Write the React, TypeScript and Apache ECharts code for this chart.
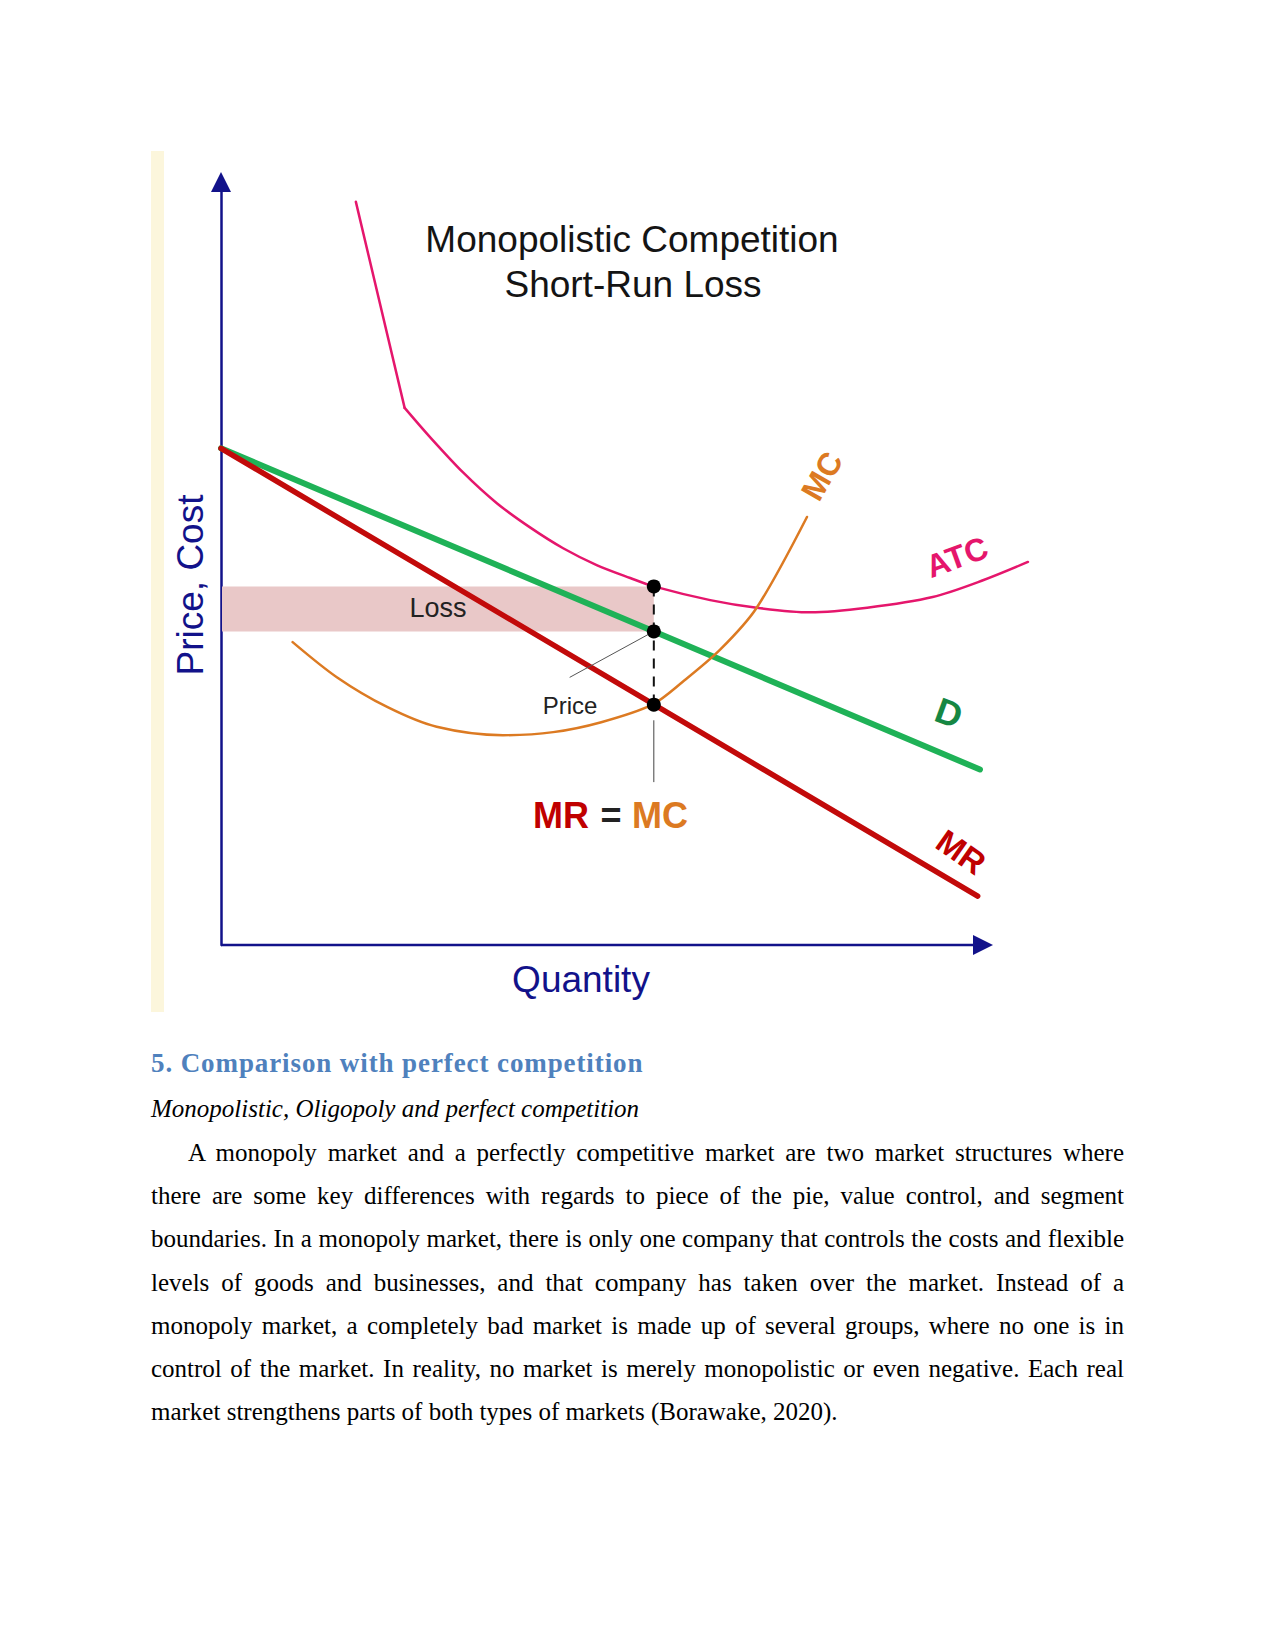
import React, { useEffect, useRef } from "react";
import * as echarts from "echarts";

// ---- axis ranges (arbitrary units) ----
const quantityMax = 110;
const quantityArrowAt = 100;
const priceMax = 100;

// ---- curves (quantity, price/cost) ----
const demandQ = [0, 99.6];
const demandP = [65.1, 23.0];

const mrQ = [0, 99.3];
const mrP = [65.1, 6.4];

const atcUpperQ = [17.7, 24.1];
const atcUpperP = [97.4, 70.4];

const atcQ = [24.1, 27.4, 31.8, 36.2, 40.6, 44.9, 49.3, 53.7, 56.8, 64.2, 70.3, 77.3, 84.8, 93.4, 100.0, 105.9];
const atcP = [70.4, 66.6, 61.9, 57.9, 54.7, 52.0, 49.8, 48.1, 47.0, 45.2, 44.2, 43.6, 44.2, 45.6, 47.8, 50.2];

const mcQ = [9.4, 15.2, 21.8, 28.3, 37.0, 43.6, 49.9, 56.6, 60.6, 65.5, 70.3, 76.9];
const mcP = [39.7, 35.1, 31.2, 28.6, 27.5, 27.9, 29.2, 31.5, 34.5, 38.7, 44.2, 56.1];

// ---- key points at the loss-minimising quantity ----
const qStar = 56.8;
const priceAtQ = 41.1;
const atcAtQ = 47.0;
const mcAtQ = 31.5;
const guideP = [29.4, 21.4];
const pricePointer = [45.8, 35.1];

// ---- texts ----
const titleLines = ["Monopolistic Competition", "Short-Run Loss"];
const yAxisTitle = "Price, Cost";
const xAxisTitle = "Quantity";

const heading = "5. Comparison with perfect competition";
const subheading = "Monopolistic, Oligopoly and perfect competition";
const bodyLines = [
  "A monopoly market and a perfectly competitive market are two market structures where",
  "there are some key differences with regards to piece of the pie, value control, and segment",
  "boundaries. In a monopoly market, there is only one company that controls the costs and flexible",
  "levels of goods and businesses, and that company has taken over the market. Instead of a",
  "monopoly market, a completely bad market is made up of several groups, where no one is in",
  "control of the market. In reality, no market is merely monopolistic or even negative. Each real",
  "market strengthens parts of both types of markets (Borawake, 2020).",
];

const NAVY = "#12128a";
const GREEN = "#1fb257";
const RED = "#c20a0a";
const PINK = "#e5166c";
const ORANGE = "#dc7a22";
const LOSS = "#e9c8c8";
const SANS = '"Liberation Sans", Arial, Helvetica, sans-serif';
const SERIF = '"Liberation Serif", "Times New Roman", Times, serif';

const zip = (a: number[], b: number[]) => a.map((v, i) => [v, b[i]]);

function txt(
  text: string,
  x: number,
  y: number,
  size: number,
  fill: string,
  opts: { bold?: boolean; align?: string; rotation?: number } = {}
) {
  const align = opts.align || "center";
  return {
    type: "text",
    x,
    y,
    rotation: opts.rotation || 0,
    z: 100,
    silent: true,
    style: {
      text,
      fill,
      fontSize: size,
      fontFamily: SANS,
      fontWeight: opts.bold ? "bold" : "normal",
      textAlign: align,
      textVerticalAlign: "middle",
      align,
      verticalAlign: "middle",
    },
  };
}

const deg = (d: number) => (d * Math.PI) / 180;

function Chart() {
  const ref = useRef<HTMLDivElement>(null);
  useEffect(() => {
    if (!ref.current) return;
    const chart = echarts.init(ref.current, undefined, { renderer: "svg" });
    const line = (data: number[][], color: string, width: number, extra: any = {}) => ({
      type: "line",
      data,
      showSymbol: false,
      symbol: "none",
      clip: false,
      silent: true,
      lineStyle: { color, width, cap: "round" },
      ...extra,
    });
    const option: any = {
      animation: false,
      backgroundColor: "transparent",
      grid: { left: 221, top: 182, width: 7.62 * quantityMax, height: 763 },
      xAxis: {
        type: "value",
        min: 0,
        max: quantityMax,
        axisLine: { show: false },
        axisTick: { show: false },
        axisLabel: { show: false },
        splitLine: { show: false },
      },
      yAxis: {
        type: "value",
        min: 0,
        max: priceMax,
        axisLine: {
          show: true,
          onZero: false,
          symbol: ["none", "triangle"],
          symbolSize: [20, 20],
          lineStyle: { color: NAVY, width: 2.5 },
        },
        axisTick: { show: false },
        axisLabel: { show: false },
        splitLine: { show: false },
      },
      series: [
        {
          type: "custom",
          silent: true,
          clip: false,
          data: [[0, atcAtQ, qStar, priceAtQ]],
          renderItem: (_p: any, api: any) => {
            const a = api.coord([api.value(0), api.value(1)]);
            const b = api.coord([api.value(2), api.value(3)]);
            return {
              type: "rect",
              shape: { x: a[0] + 1, y: a[1], width: b[0] - a[0] - 1, height: b[1] - a[1] },
              style: { fill: LOSS },
            };
          },
        },
        // quantity axis line with arrow head
        line(
          [
            [0, 0],
            [quantityArrowAt, 0],
          ],
          NAVY,
          2.5,
          { lineStyle: { color: NAVY, width: 2.5, cap: "butt" } }
        ),
        {
          type: "scatter",
          silent: true,
          clip: false,
          symbol: "triangle",
          symbolRotate: -90,
          symbolSize: 20,
          itemStyle: { color: NAVY, opacity: 1 },
          data: [[quantityArrowAt, 0]],
        },
        line(zip(atcUpperQ, atcUpperP), PINK, 2.5),
        line(zip(atcQ, atcP), PINK, 2.5, { smooth: 0.3 }),
        line(zip(demandQ, demandP), GREEN, 6),
        line(zip(mrQ, mrP), RED, 5.5),
        line(zip(mcQ, mcP), ORANGE, 2.5, { smooth: 0.3 }),
        line(
          [
            [qStar, atcAtQ],
            [qStar, mcAtQ],
          ],
          "#111",
          2,
          { lineStyle: { color: "#111", width: 2, type: [10, 8] } }
        ),
        line(
          [
            [qStar, guideP[0]],
            [qStar, guideP[1]],
          ],
          "#444",
          1
        ),
        line([pricePointer, [qStar, priceAtQ]], "#555", 1),
        {
          type: "scatter",
          silent: true,
          symbolSize: 14,
          itemStyle: { color: "#000", opacity: 1 },
          data: [
            [qStar, atcAtQ],
            [qStar, priceAtQ],
            [qStar, mcAtQ],
          ],
          z: 5,
        },
      ],
      graphic: [
        {
          type: "rect",
          z: -1,
          silent: true,
          shape: { x: 151, y: 151, width: 13, height: 861 },
          style: { fill: "#fcf6dc" },
        },
        txt(titleLines[0], 632, 239, 37, "#141414"),
        txt(titleLines[1], 633, 284, 37, "#141414"),
        txt(yAxisTitle, 190, 585, 37, NAVY, { rotation: Math.PI / 2 }),
        txt(xAxisTitle, 581, 979, 37, NAVY),
        txt("Loss", 438, 608, 27, "#222"),
        txt("Price", 570, 705, 24, "#222"),
        txt("MR", 533, 815, 36, "#c00000", { bold: true, align: "left" }),
        txt("=", 611, 815, 36, "#222", { bold: true }),
        txt("MC", 632, 815, 36, ORANGE, { bold: true, align: "left" }),
        txt("MC", 822, 476, 32, ORANGE, { bold: true, rotation: deg(60) }),
        txt("ATC", 957, 557, 32, PINK, { bold: true, rotation: deg(20) }),
        txt("D", 949, 713, 36, "#168743", { bold: true, rotation: deg(-20) }),
        txt("MR", 961, 852, 33, "#c00000", { bold: true, rotation: deg(-35) }),
      ],
    };
    chart.setOption(option);
    return () => chart.dispose();
  }, []);
  return <div ref={ref} style={{ position: "absolute", left: 0, top: 0, width: 1275, height: 1030 }} />;
}

export default function App() {
  const lineStyle: React.CSSProperties = {
    textAlign: "justify",
    textAlignLast: "justify" as any,
    height: 43.2,
    lineHeight: "43.2px",
  };
  return (
    <div
      style={{
        position: "absolute",
        left: 0,
        top: 0,
        width: 1275,
        height: 1651,
        background: "#fff",
        overflow: "hidden",
      }}
    >
      <Chart />
      <div
        style={{
          position: "absolute",
          left: 151,
          top: 1047,
          lineHeight: "32px",
          fontFamily: SERIF,
          fontWeight: "bold",
          fontSize: 27,
          letterSpacing: 0.9,
          color: "#4f81bd",
          whiteSpace: "nowrap",
        }}
      >
        {heading}
      </div>
      <div
        style={{
          position: "absolute",
          left: 151,
          top: 1087,
          lineHeight: "43.2px",
          fontFamily: SERIF,
          fontStyle: "italic",
          fontSize: 25,
          color: "#000",
          whiteSpace: "nowrap",
        }}
      >
        {subheading}
      </div>
      <div
        style={{
          position: "absolute",
          left: 151,
          top: 1131,
          width: 973,
          fontFamily: SERIF,
          fontSize: 25,
          color: "#000",
        }}
      >
        {bodyLines.map((l, i) => (
          <div
            key={i}
            style={
              i === bodyLines.length - 1
                ? { ...lineStyle, textAlign: "left", textAlignLast: "left" as any }
                : i === 0
                ? { ...lineStyle, paddingLeft: 37 }
                : lineStyle
            }
          >
            {l}
          </div>
        ))}
      </div>
    </div>
  );
}
